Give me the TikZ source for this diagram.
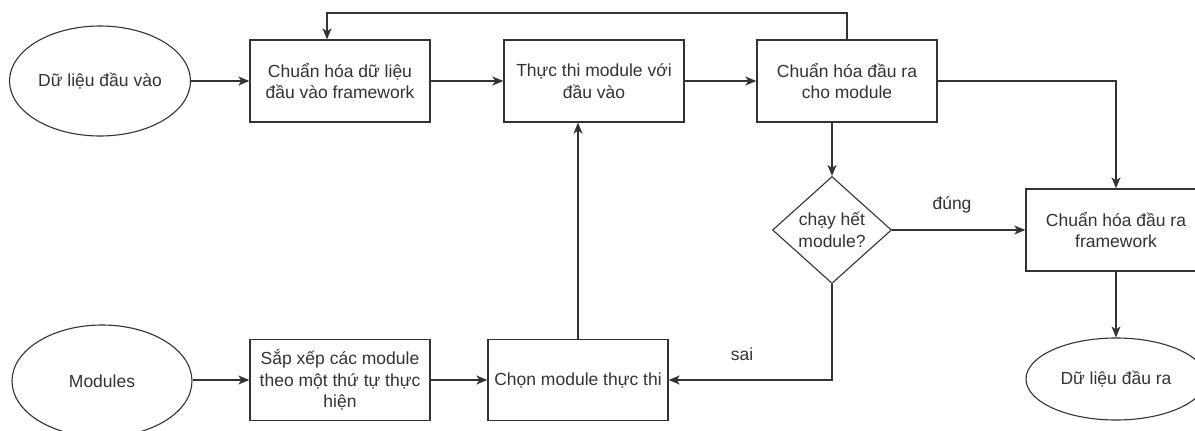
\documentclass[tikz,border=0pt]{standalone}
\usepackage{fontspec}
\setmainfont{Liberation Sans}
\usetikzlibrary{shapes.geometric,arrows.meta}
\definecolor{ink}{HTML}{333333}
\tikzset{
  every node/.style={text=ink, font=\fontsize{17.5}{21.7}\selectfont, align=center, inner sep=0pt},
  procbox/.style={draw=ink, line width=1.3pt, rectangle, minimum width=180pt, minimum height=82pt},
  terminal/.style={draw=ink, line width=1.1pt, ellipse, minimum width=181pt, minimum height=110pt},
  decision/.style={draw=ink, line width=1.1pt, diamond, minimum width=119pt, minimum height=107pt, aspect=1.1},
  flow/.style={draw=ink, line width=1.3pt, -{Stealth[length=11pt,width=9pt,inset=3pt]}},
  link/.style={draw=ink, line width=1.3pt},
  lbl/.style={text=ink}
}
\begin{document}
\begin{tikzpicture}[x=1pt,y=-1pt]
\useasboundingbox (0,0) rectangle (1195,431);
\clip (0,0) rectangle (1195,431);

% top row
\node[terminal] (in) at (100,81) {Dữ liệu đầu vào};
\node[procbox] (A) at (340,81) {Chuẩn hóa dữ liệu\\đầu vào framework};
\node[procbox] (B) at (594,81) {Thực thi module với\\đầu vào};
\node[procbox] (C) at (847,81) {Chuẩn hóa đầu ra\\cho module};

% decision and output side
\node[decision] (dia) at (832,230) {chạy hết\\module?};
\node[procbox] (D) at (1116,230) {Chuẩn hóa đầu ra\\framework};
\node[terminal, minimum width=180pt, minimum height=82pt] (out) at (1116,379) {Dữ liệu đầu ra};

% bottom row
\node[terminal, minimum width=180pt, minimum height=112pt] (mods) at (102,381) {Modules};
\node[procbox, minimum height=81pt] (E) at (340,380) {Sắp xếp các module\\theo một thứ tự thực\\hiện};
\node[procbox, minimum height=81pt] (F) at (578,380) {Chọn module thực thi};

% main flow
\draw[flow] (in.east) -- (A.west);
\draw[flow] (A.east) -- (B.west);
\draw[flow] (B.east) -- (C.west);
\draw[flow] (C.east) -| (D.north);
\draw[flow] (dia.north |- C.south) -- (dia.north);
\draw[flow] (dia.east) -- (D.west);
\draw[flow] (D.south) -- (out.north);

% feedback loop over the top
\coordinate (t1) at (847,13);
\coordinate (t2) at (327,13);
\draw[flow] (C.north) -- (t1) -- (t2) -- (t2 |- A.north);

% bottom row flow
\draw[flow] (mods.east |- E.west) -- (E.west);
\draw[flow] (E.east) -- (F.west);
\draw[flow] (F.north) -- (F.north |- B.south);
\draw[flow] (dia.south) |- (F.east);

% branch labels
\node[lbl] (yes) at (952,205) {đúng};
\node[lbl] (no) at (742,354) {sai};
\end{tikzpicture}
\end{document}
